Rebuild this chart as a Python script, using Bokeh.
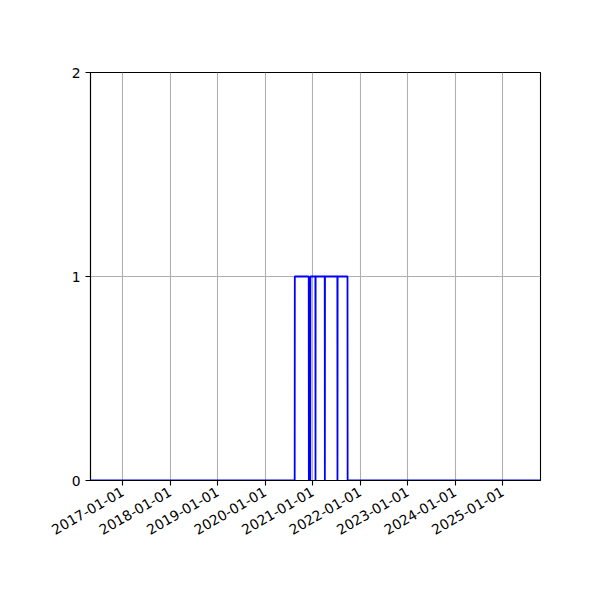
import math
import pandas as pd
from bokeh.plotting import figure
from bokeh.models import Range1d, FixedTicker, DatetimeTickFormatter
from bokeh.embed import file_html
from bokeh.resources import INLINE

# Step series: dates where the state changes and the state value
dates = ["2016-04-28", "2020-08-15", "2020-08-16", "2020-12-01", "2020-12-02",
         "2020-12-13", "2020-12-14", "2021-01-21", "2021-01-22", "2021-01-23",
         "2021-04-03", "2021-04-04", "2021-04-05", "2021-07-09", "2021-07-10",
         "2021-07-11", "2021-09-25", "2021-09-26", "2025-10-18"]
values = [0, 0, 1, 1, 0,
          0, 1, 1, 0, 1,
          1, 0, 1, 1, 0,
          1, 1, 0, 0]

tick_dates = ["2017-01-01", "2018-01-01", "2019-01-01", "2020-01-01", "2021-01-01",
              "2022-01-01", "2023-01-01", "2024-01-01", "2025-01-01"]
y_ticks = [0, 1, 2]

x = pd.to_datetime(dates)
tick_ms = [pd.Timestamp(d).value / 1e6 for d in tick_dates]

p = figure(width=584, height=584, output_backend="svg", toolbar_location=None,
           x_axis_type="datetime",
           x_range=Range1d(x[0], x[-1]), y_range=Range1d(0, 2),
           min_border_left=90, min_border_right=44, min_border_top=72,
           min_border_bottom=104)

p.line(x, values, line_color="blue", line_width=1.8)

p.xaxis.ticker = FixedTicker(ticks=tick_ms)
p.xaxis.formatter = DatetimeTickFormatter(days="%Y-%m-%d", months="%Y-%m-%d",
                                          years="%Y-%m-%d")
p.xaxis.major_label_orientation = math.pi / 6
p.yaxis.ticker = FixedTicker(ticks=y_ticks)

for ax in (p.xaxis, p.yaxis):
    ax.major_label_text_font = "DejaVu Sans"
    ax.major_label_text_font_size = "13.9px"
    ax.major_label_text_color = "black"
    ax.axis_line_color = "black"
    ax.axis_line_width = 1.1
    ax.major_tick_line_color = "black"
    ax.major_tick_line_width = 1.1
    ax.major_tick_out = 5
    ax.major_tick_in = 0
    ax.minor_tick_line_color = None
    ax.major_label_standoff = 5

p.xgrid.ticker = FixedTicker(ticks=tick_ms)
p.ygrid.ticker = FixedTicker(ticks=y_ticks)
p.grid.grid_line_color = "#b0b0b0"
p.grid.grid_line_width = 1.1

p.outline_line_color = "black"
p.outline_line_width = 1.1
p.outline_line_alpha = 1.0
p.background_fill_color = "white"
p.border_fill_color = "white"

open("out.html", "w").write(file_html(p, INLINE))
